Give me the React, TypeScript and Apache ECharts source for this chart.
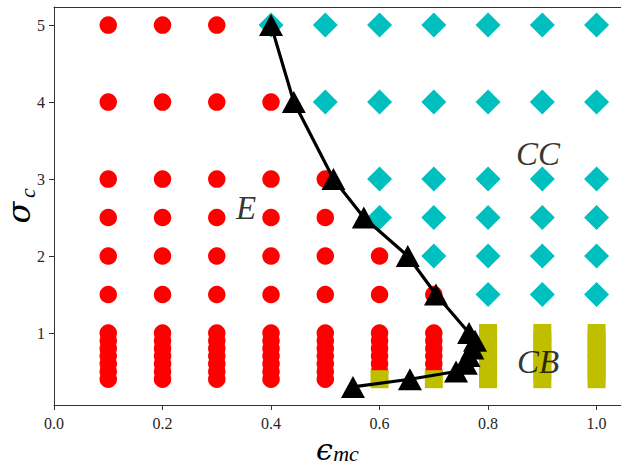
import React, { useEffect, useRef } from "react";
import * as echarts from "echarts";

// grid of sampled parameters
const EPS = [0.1, 0.2, 0.3, 0.4, 0.5, 0.6, 0.7, 0.8, 0.9, 1.0];
const SIGMA = [5, 4, 3, 2.5, 2, 1.5, 1.0, 0.9, 0.8, 0.7, 0.6, 0.5, 0.4];
// phase for each sigma row (E = red circle, C = cyan diamond, B = olive square), one char per EPS value
const PHASE_ROWS = [
  "EEECCCCCCC",
  "EEEECCCCCC",
  "EEEEECCCCC",
  "EEEEECCCCC",
  "EEEEEECCCC",
  "EEEEEEECCC",
  "EEEEEEEBBB",
  "EEEEEEEBBB",
  "EEEEEEEBBB",
  "EEEEEEEBBB",
  "EEEEEEEBBB",
  "EEEEEEEBBB",
  "EEEEEBBBBB",
];

// boundary curve (black line with triangles)
const BOUNDARY_EPS = [0.4, 0.442, 0.515, 0.571, 0.652, 0.704, 0.765, 0.776, 0.771, 0.764, 0.759, 0.741, 0.656, 0.551];
const BOUNDARY_SIGMA = [5, 4, 3, 2.5, 2, 1.5, 1.0, 0.9, 0.8, 0.7, 0.6, 0.5, 0.4, 0.3];

const X_TICKS = [0, 0.2, 0.4, 0.6, 0.8, 1.0];
const Y_TICKS = [1, 2, 3, 4, 5];

const REGION_LABELS = ["E", "CC", "CB"];
const REGION_EPS = [0.354, 0.892, 0.892];
const REGION_SIGMA = [2.63, 3.33, 0.63];

function pointsOf(code: string): number[][] {
  const out: number[][] = [];
  SIGMA.forEach((s, i) => {
    EPS.forEach((e, j) => {
      if (PHASE_ROWS[i][j] === code) out.push([e, s]);
    });
  });
  return out;
}

export default function App() {
  const ref = useRef<HTMLDivElement>(null);
  useEffect(() => {
    document.body.style.margin = "0";
    if (!ref.current) return;
    const chart = echarts.init(ref.current, undefined, { renderer: "svg" });
    const axisColor = "#333333";
    const tickFont = { fontFamily: "Liberation Serif", fontSize: 16, color: "#262626" };
    const XMIN = 0, XMAX = 1.045, YMIN = 0.065, YMAX = 5.235;
    chart.setOption({
      animation: false,
      grid: { left: 54, right: 0, top: 7, bottom: 61 },
      xAxis: [
        {
          type: "value",
          min: XMIN,
          max: XMAX,
          splitLine: { show: false },
          axisLine: { show: true, onZero: false, lineStyle: { color: axisColor, width: 1 } },
          axisTick: { show: true, length: 5, inside: false, customValues: X_TICKS, lineStyle: { color: axisColor } },
          axisLabel: {
            ...tickFont,
            margin: 10,
            customValues: X_TICKS,
            formatter: (v: number) => v.toFixed(1),
          },
        },
        {
          type: "value",
          position: "top",
          min: XMIN,
          max: XMAX,
          splitLine: { show: false },
          axisLine: { show: true, onZero: false, lineStyle: { color: axisColor, width: 1 } },
          axisTick: { show: false },
          axisLabel: { show: false },
        },
      ],
      yAxis: {
        type: "value",
        min: YMIN,
        max: YMAX,
        splitLine: { show: false },
        axisLine: { show: true, onZero: false, lineStyle: { color: axisColor, width: 1 } },
        axisTick: { show: true, length: 5, customValues: Y_TICKS, lineStyle: { color: axisColor } },
        axisLabel: {
          ...tickFont,
          margin: 9,
          customValues: Y_TICKS,
          formatter: (v: number) => String(Math.round(v)),
        },
      },
      series: [
        {
          type: "scatter",
          data: pointsOf("E"),
          symbol: "circle",
          symbolSize: 17.5,
          itemStyle: { color: "#ff0000", opacity: 1 },
        },
        {
          type: "scatter",
          data: pointsOf("B"),
          symbol: "rect",
          symbolSize: 18,
          itemStyle: { color: "#bfbf00", opacity: 1 },
        },
        {
          type: "scatter",
          data: pointsOf("C"),
          symbol: "diamond",
          symbolSize: 25,
          itemStyle: { color: "#00bfbf", opacity: 1 },
        },
        {
          type: "line",
          data: BOUNDARY_EPS.map((e, i) => [e, BOUNDARY_SIGMA[i]]),
          symbol: "triangle",
          symbolSize: [24, 22],
          showSymbol: true,
          itemStyle: { color: "#000000" },
          lineStyle: { color: "#000000", width: 3.2 },
          z: 5,
        },
        {
          type: "scatter",
          data: REGION_EPS.map((e, i) => ({ value: [e, REGION_SIGMA[i]], name: REGION_LABELS[i] })),
          symbolSize: 1,
          itemStyle: { color: "transparent" },
          z: 6,
          label: {
            show: true,
            position: "inside",
            formatter: (p: any) => p.name,
            fontFamily: "Liberation Serif",
            fontStyle: "italic",
            fontSize: 33,
            color: "#000000",
          },
        },
      ],
      graphic: [
        {
          type: "text",
          x: 324.5,
          y: 449,
          style: {
            text: "ϵ",
            fontFamily: "DejaVu Serif",
            fontStyle: "italic",
            fontSize: 30,
            lineHeight: 24,
            fill: "#000",
            align: "center",
            verticalAlign: "middle",
          },
        },
        {
          type: "text",
          x: 346,
          y: 453.5,
          style: {
            text: "mc",
            fontFamily: "Liberation Serif",
            fontStyle: "italic",
            fontSize: 22,
            lineHeight: 18,
            fill: "#000",
            align: "center",
            verticalAlign: "middle",
          },
        },
        {
          type: "text",
          x: 19,
          y: 212.5,
          rotation: Math.PI / 2,
          style: {
            text: "σ",
            fontFamily: "DejaVu Serif",
            fontStyle: "italic",
            fontSize: 32,
            lineHeight: 24,
            fill: "#000",
            align: "center",
            verticalAlign: "middle",
          },
        },
        {
          type: "text",
          x: 27,
          y: 193,
          rotation: Math.PI / 2,
          style: {
            text: "c",
            fontFamily: "Liberation Serif",
            fontStyle: "italic",
            fontSize: 22,
            lineHeight: 18,
            fill: "#000",
            align: "center",
            verticalAlign: "middle",
          },
        },
      ],
    });
    return () => chart.dispose();
  }, []);
  return <div ref={ref} style={{ width: 621, height: 466 }} />;
}
